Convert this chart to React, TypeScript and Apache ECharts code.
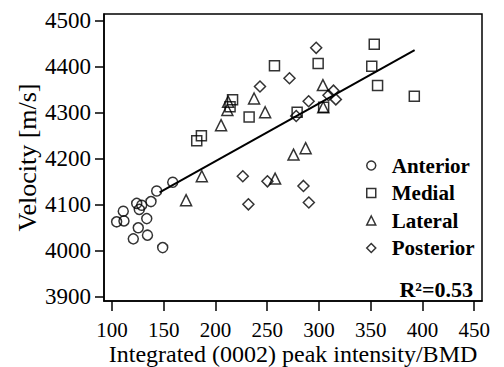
import React, { useEffect, useRef } from "react";
import * as echarts from "echarts";

const anteriorX = [104.5, 111.6, 110.9, 123.9, 128.7, 126.4, 137.7, 143.2, 158.7, 133.6, 125.4, 134.3, 120.6, 149.0];
const anteriorY = [4063, 4065, 4086, 4103, 4099, 4090, 4107, 4130, 4149, 4070, 4050, 4034, 4026, 4007];

const medialX = [181.9, 186.4, 216.5, 214.1, 232.5, 257.0, 299.2, 278.9, 304.5, 353.4, 351.0, 356.6, 392.1];
const medialY = [4239, 4250, 4328, 4313, 4291, 4402, 4407, 4301, 4312, 4449, 4401, 4359, 4336];

const lateralX = [171.6, 186.8, 205.4, 211.5, 212.2, 237.3, 248.0, 257.6, 275.4, 287.1, 303.8, 304.1];
const lateralY = [4110, 4162, 4273, 4306, 4324, 4331, 4301, 4157, 4209, 4223, 4360, 4312];

const posteriorX = [297.3, 271.5, 243.0, 290.0, 278.0, 314.0, 309.2, 316.3, 226.4, 231.8, 250.2, 285.0, 290.2];
const posteriorY = [4441, 4375, 4357, 4325, 4293, 4348, 4338, 4329, 4162, 4101, 4151, 4141, 4105];

const fitX = [146, 392.4];
const fitY = [4127, 4436];

const xTicks = [100, 150, 200, 250, 300, 350, 400, 450];
const yTicks = [3900, 4000, 4100, 4200, 4300, 4400, 4500];

const seriesNames = ["Anterior", "Medial", "Lateral", "Posterior"];
const seriesSymbols = ["circle", "rect", "triangle", "diamond"];

const zip = (xs: number[], ys: number[]) => xs.map((x, i) => [x, ys[i]]);

export default function App() {
  const ref = useRef<HTMLDivElement>(null);
  useEffect(() => {
    if (!ref.current) return;
    const chart = echarts.init(ref.current, null, { renderer: "svg" });
    const serif = "Liberation Serif";
    const sets = [
      zip(anteriorX, anteriorY),
      zip(medialX, medialY),
      zip(lateralX, lateralY),
      zip(posteriorX, posteriorY),
    ];
    const sizes = [10, 10, 11, 11];
    chart.setOption({
      animation: false,
      backgroundColor: "#fff",
      grid: {
        left: 104,
        right: 22,
        top: 14,
        bottom: 66,
        show: true,
        borderColor: "#000",
        borderWidth: 1.5,
        backgroundColor: "transparent",
        containLabel: false,
        outerBoundsMode: "none",
      },
      xAxis: {
        type: "value",
        min: 92.3,
        max: 457.5,
        name: "Integrated (0002) peak intensity/BMD",
        nameLocation: "middle",
        nameGap: 41,
        nameMoveOverlap: false,
        nameTextStyle: { fontFamily: serif, fontSize: 24, color: "#000" },
        axisLine: { show: true, lineStyle: { color: "#000", width: 1.5 } },
        axisTick: { show: true, length: 10, lineStyle: { color: "#000", width: 1.5 }, customValues: xTicks },
        axisLabel: {
          fontFamily: serif,
          fontSize: 21,
          color: "#000",
          margin: 18,
          customValues: xTicks,
          formatter: (v: number) => String(v),
        },
        splitLine: { show: false },
      },
      yAxis: {
        type: "value",
        min: 3891,
        max: 4514.5,
        name: "Velocity [m/s]",
        nameLocation: "middle",
        nameGap: 64,
        nameMoveOverlap: false,
        nameRotate: 90,
        nameTextStyle: { fontFamily: serif, fontSize: 26, color: "#000" },
        axisLine: { show: true, lineStyle: { color: "#000", width: 1.5 } },
        axisTick: { show: true, length: 9, lineStyle: { color: "#000", width: 1.5 }, customValues: yTicks },
        axisLabel: {
          fontFamily: serif,
          fontSize: 23,
          color: "#000",
          margin: 13,
          customValues: yTicks,
          formatter: (v: number) => String(v),
        },
        splitLine: { show: false },
      },
      legend: {
        orient: "vertical",
        left: 361,
        top: 150,
        itemWidth: 9,
        itemHeight: 9,
        itemGap: 6.5,
        data: seriesNames.map((n, i) => ({ name: n, icon: seriesSymbols[i] })),
        itemStyle: { color: "transparent", borderColor: "#000", borderWidth: 1.5 },
        textStyle: {
          fontFamily: serif,
          fontSize: 21,
          fontWeight: "bold",
          color: "#000",
          lineHeight: 21,
          padding: [0, 0, 0, 11],
        },
      },
      graphic: [
        {
          type: "text",
          right: 31,
          top: 278,
          style: {
            text: "R²=0.53",
            font: `bold 22px ${serif}`,
            fill: "#000",
          },
        },
      ],
      series: [
        ...sets.map((d, i) => ({
          name: seriesNames[i],
          type: "scatter",
          symbol: seriesSymbols[i],
          symbolSize: sizes[i],
          data: d,
          itemStyle: { color: "transparent", borderColor: "#000", borderWidth: 1.5 },
          z: 3,
        })),
        {
          name: "fit",
          type: "line",
          data: zip(fitX, fitY),
          showSymbol: false,
          symbol: "none",
          lineStyle: { color: "#000", width: 2 },
          z: 2,
        },
      ],
    });
    return () => chart.dispose();
  }, []);
  return <div ref={ref} style={{ width: 504, height: 367, position: "absolute", left: 0, top: 0 }} />;
}
